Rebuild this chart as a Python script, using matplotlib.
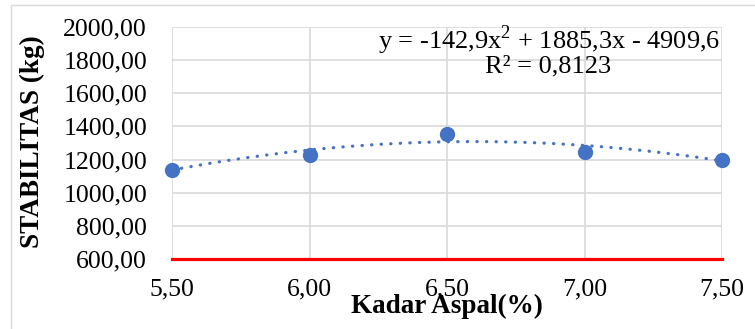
import matplotlib
matplotlib.use("Agg")
import matplotlib.pyplot as plt
from matplotlib.patches import Rectangle
import numpy as np

# Data
kadar_aspal = [5.50, 6.00, 6.50, 7.00, 7.50]
stabilitas = [1138, 1228, 1355, 1246, 1200]
batas_min_x = [5.50, 7.50]
batas_min_y = [600, 600]
trend_coef = [-142.9, 1885.3, -4909.6]
x_ticks = [5.5, 6.0, 6.5, 7.0, 7.5]
y_ticks = [600, 800, 1000, 1200, 1400, 1600, 1800, 2000]

W, H = 755, 329
fig = plt.figure(figsize=(W / 100, H / 100), dpi=100)
plt.rcParams['font.family'] = ['Liberation Serif', 'DejaVu Serif']

# chart border
fig.patches.append(Rectangle((11 / W, -0.1), 1.2, 1 - 5 / H + 0.1, transform=fig.transFigure,
                             fill=False, edgecolor='#D9D9D9', linewidth=1.0))

L, R, T, B = 172, 722, 27, 259
ax = fig.add_axes([L / W, 1 - B / H, (R - L) / W, (B - T) / H])
ax.set_xlim(5.5, 7.5)
ax.set_ylim(600, 2000)
ax.set_xticks(x_ticks)
ax.set_yticks(y_ticks)
ax.set_xticklabels([f"{v:.2f}".replace('.', ',') for v in x_ticks])
ax.set_yticklabels([f"{v:.2f}".replace('.', ',') for v in y_ticks])
ax.tick_params(length=0, labelsize=18.5, colors='black')
ax.tick_params(axis='y', pad=18)
ax.tick_params(axis='x', pad=14)
for s in ax.spines.values():
    s.set_visible(False)
ax.grid(True, color='#D9D9D9', linewidth=1.2, zorder=0)
ax.set_axisbelow(True)

# trendline
xt = np.linspace(kadar_aspal[0], kadar_aspal[-1], 200)
yt = np.polyval(trend_coef, xt)
ax.plot(xt, yt, color='#4472C4', linewidth=2.3, linestyle=(0, (0.1, 2.9)),
        dash_capstyle='round', zorder=3)

ax.plot(kadar_aspal, stabilitas, linestyle='none', marker='o', markersize=10,
        color='#4472C4', zorder=4, clip_on=False)

ax.plot(batas_min_x, batas_min_y, color='#FF0000', linewidth=2.3,
        solid_capstyle='projecting', zorder=5, clip_on=False)

ax.text(549 / W, 1 - 40 / H,
        "y = -142,9x$^{\\mathregular{2}}$ + 1885,3x - 4909,6",
        transform=fig.transFigure, ha='center', va='center', fontsize=19)
ax.text(548 / W, 1 - 66 / H, "R² = 0,8123",
        transform=fig.transFigure, ha='center', va='center', fontsize=19)

fig.text(447 / W, 1 - 306 / H, "Kadar Aspal(%)", ha='center', va='center',
         fontsize=19.5, fontweight='bold')
fig.text(32 / W, 1 - 142 / H, "STABILITAS (kg)", ha='center', va='center',
         rotation=90, fontsize=19.5, fontweight='bold')

fig.savefig("out.png", dpi=100)
